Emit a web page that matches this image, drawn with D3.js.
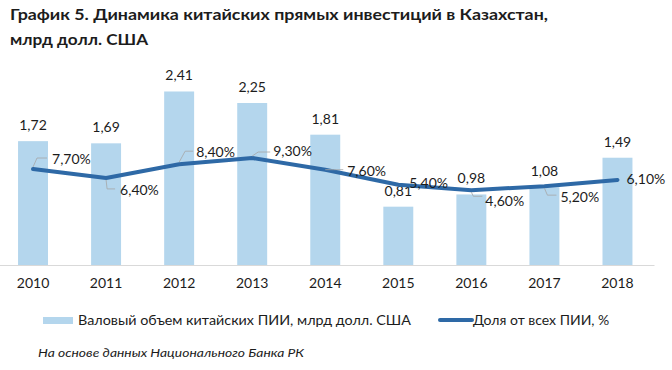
<!DOCTYPE html>
<html>
<head>
<meta charset="utf-8">
<script src="https://cdn.jsdelivr.net/npm/d3@7"></script>
<style>
body { margin: 0; background: #fff; }
text { font-family: Lato, "Open Sans", sans-serif; fill: #1c1c1c; }
</style>
</head>
<body>
<div id="chart"></div>
<script>
// данные графика
const years = ["2010", "2011", "2012", "2013", "2014", "2015", "2016", "2017", "2018"];
const volume = [1.72, 1.69, 2.41, 2.25, 1.81, 0.81, 0.98, 1.08, 1.49];   // млрд долл. США
const share = [7.7, 6.4, 8.4, 9.3, 7.6, 5.4, 4.6, 5.2, 6.1];             // %
const titleLines = ["График 5. Динамика китайских прямых инвестиций в Казахстан,", "млрд долл. США"];
const legendNames = ["Валовый объем китайских ПИИ, млрд долл. США", "Доля от всех ПИИ, %"];
const sourceNote = "На основе данных Национального Банка РК";

// смещения подписей процентов (как вручную передвинуты в Excel): [dx, dy, leader]
const shareLabelPos = [
  [19, -5, [4, -11, 14]],
  [14, 17, [1, 11, 9]],
  [17, -7, [6, -13, 14]],
  [21, -2, [6, -6, 18]],
  [22, 6, [8, 0, 18]],
  [11, 3, null],
  [14, 16, [2, 6, 11]],
  [16, 16, [3, 9, 12]],
  [9, 4, null]
];

const W = 672, H = 370;
const barColor = "#b4d6ed", lineColor = "#2e69a6";

const ru = d3.formatLocale({decimal: ",", thousands: " ", grouping: [3], currency: ["", ""]});
const fmtVol = ru.format(".2f");
const fmtPct = v => ru.format(".2f")(v) + "%";

const svg = d3.select("#chart").append("svg")
  .attr("width", W).attr("height", H);

const x = d3.scaleBand().domain(years).range([-3.5, 654])
  .paddingInner(0.59).paddingOuter(0.295);
const y = d3.scaleLinear().domain([0, 3]).range([265, 49]);
const y2 = d3.scaleLinear().domain([-6.3, 25.2]).range([265, 49]);

function fitWidth(sel, w) {
  sel.each(function() {
    if (Math.abs(this.getComputedTextLength() - w) > 2)
      d3.select(this).attr("textLength", w).attr("lengthAdjust", "spacingAndGlyphs");
  });
}

// заголовок
svg.append("text").attr("x", 10).attr("y", 20)
  .style("font-size", "16px").style("font-weight", "bold")
  .text(titleLines[0]).call(fitWidth, 538);
svg.append("text").attr("x", 10).attr("y", 45)
  .style("font-size", "16px").style("font-weight", "bold")
  .text(titleLines[1]).call(fitWidth, 138);

// столбцы
svg.selectAll(".bar").data(volume).enter().append("rect")
  .attr("class", "bar")
  .attr("x", (d, i) => x(years[i]))
  .attr("width", x.bandwidth())
  .attr("y", d => y(d))
  .attr("height", d => y(0) - y(d))
  .style("fill", barColor);

// ось X
const xAxis = svg.append("g").attr("transform", "translate(0," + y(0) + ")")
  .call(d3.axisBottom(x).tickSize(0).tickPadding(13));
xAxis.select(".domain").attr("stroke", "#d9d9d9");
xAxis.selectAll("text").style("font-size", "14px").style("font-family", "Lato, sans-serif").attr("fill", "#1c1c1c");

// подписи столбцов
svg.selectAll(".vlab").data(volume).enter().append("text")
  .attr("class", "vlab")
  .attr("x", (d, i) => x(years[i]) + x.bandwidth() / 2)
  .attr("y", d => y(d) - 11)
  .attr("text-anchor", "middle")
  .style("font-size", "14px")
  .text(d => fmtVol(d));

// линия доли
const cx = i => x(years[i]) + x.bandwidth() / 2;
const line = d3.line().x((d, i) => cx(i)).y(d => y2(d));
svg.append("path").datum(share)
  .attr("d", line)
  .attr("fill", "none")
  .attr("stroke", lineColor)
  .attr("stroke-width", 4)
  .attr("stroke-linejoin", "round")
  .attr("stroke-linecap", "round");

// выноски и подписи процентов
share.forEach((v, i) => {
  const px = cx(i), py = y2(v), p = shareLabelPos[i];
  if (p[2]) {
    const l = p[2];
    svg.append("path")
      .attr("d", "M" + px + "," + (py + Math.sign(l[1]) * 2) + "L" + (px + l[0]) + "," + (py + l[1]) + "H" + (px + l[2]))
      .attr("fill", "none").attr("stroke", "#a6a6a6").attr("stroke-width", 0.8);
  }
  svg.append("text")
    .attr("x", px + p[0]).attr("y", py + p[1])
    .style("font-size", "14px")
    .text(fmtPct(v));
});

// легенда
svg.append("rect").attr("x", 43).attr("y", 317).attr("width", 30).attr("height", 7).style("fill", barColor);
svg.append("text").attr("x", 78).attr("y", 325).style("font-size", "14px")
  .text(legendNames[0]).call(fitWidth, 333);
svg.append("line").attr("x1", 440).attr("x2", 472).attr("y1", 320).attr("y2", 320)
  .attr("stroke", lineColor).attr("stroke-width", 4).attr("stroke-linecap", "round");
svg.append("text").attr("x", 473).attr("y", 325).style("font-size", "14px")
  .text(legendNames[1]).call(fitWidth, 138);

// источник
svg.append("text").attr("x", 38).attr("y", 357)
  .style("font-size", "12px").style("font-style", "italic")
  .text(sourceNote).call(fitWidth, 266);
</script>
</body>
</html>
